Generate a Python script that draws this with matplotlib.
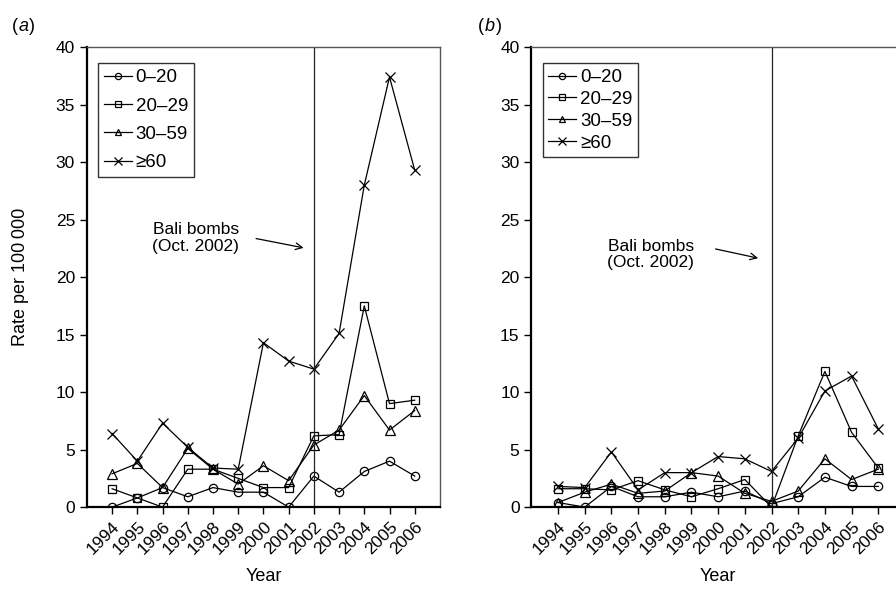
import numpy as np
import matplotlib
matplotlib.use("Agg")
import matplotlib.pyplot as plt

plt.rcParams.update({
    "font.family": ["Liberation Sans", "DejaVu Sans"],
    "font.size": 12.5,
})

# ── data ─────────────────────────────────────────────────────────────────────
years = [1994, 1995, 1996, 1997, 1998, 1999, 2000, 2001, 2002, 2003, 2004, 2005, 2006]
groups = ["0\u201320", "20\u201329", "30\u201359", "\u226560"]

# panel (a)
a_0_20  = [0.0, 0.8, 1.7, 0.9, 1.7, 1.3, 1.3, 0.0, 2.7, 1.3, 3.1, 4.0, 2.7]
a_20_29 = [1.6, 0.8, 0.0, 3.3, 3.3, 2.5, 1.7, 1.7, 6.2, 6.3, 17.5, 9.0, 9.3]
a_30_59 = [2.9, 3.8, 1.7, 5.1, 3.3, 2.0, 3.6, 2.3, 5.4, 6.7, 9.7, 6.7, 8.4]
a_60    = [6.4, 4.0, 7.3, 5.2, 3.4, 3.3, 14.3, 12.7, 12.0, 15.1, 28.0, 37.4, 29.3]

# panel (b)
b_0_20  = [0.4, 0.0, 1.8, 0.9, 0.9, 1.3, 0.9, 1.4, 0.3, 0.9, 2.6, 1.8, 1.8]
b_20_29 = [1.6, 1.6, 1.5, 2.3, 1.5, 0.9, 1.6, 2.4, 0.0, 6.2, 11.8, 6.5, 3.4]
b_30_59 = [0.4, 1.3, 2.0, 1.2, 1.4, 3.0, 2.7, 1.2, 0.5, 1.4, 4.2, 2.4, 3.3]
b_60    = [1.8, 1.7, 4.8, 1.5, 3.0, 3.0, 4.4, 4.2, 3.1, 6.0, 10.1, 11.4, 6.8]

MARKERS = ["o", "s", "^", "x"]
MSIZE   = [6, 6, 6.5, 7]

fig = plt.figure(figsize=(8.96, 5.89), dpi=100)
ax_a = fig.add_axes([0.097, 0.139, 0.394, 0.781])
ax_b = fig.add_axes([0.593, 0.139, 0.417, 0.781])


def draw_panel(ax, series, legend_spacing, text_xy, arrow_from, arrow_to):
    for vals, mk, ms, lab in zip(series, MARKERS, MSIZE, groups):
        ax.plot(years, vals, color="black", linewidth=0.9, marker=mk,
                markersize=ms, markerfacecolor="none", markeredgecolor="black",
                markeredgewidth=0.9, label=lab)
    ax.axvline(2002, color="#222222", linewidth=0.9)
    ax.set_xlim(1993, 2007)
    ax.set_ylim(0, 40)
    ax.set_yticks(range(0, 41, 5))
    ax.set_xticks(years)
    ax.set_xticklabels([str(y) for y in years], rotation=45, ha="right",
                       rotation_mode="anchor")
    ax.set_xlabel("Year", fontsize=13, labelpad=8)
    for side in ["top", "right"]:
        ax.spines[side].set_color("#555555")
        ax.spines[side].set_linewidth(1.0)
    for side in ["left", "bottom"]:
        ax.spines[side].set_color("black")
        ax.spines[side].set_linewidth(1.6)
    ax.tick_params(direction="out", length=5, width=1.0, labelsize=12.5)
    leg = ax.legend(loc="upper left", handlelength=1.5, handletextpad=0.2,
                    labelspacing=legend_spacing, borderpad=0.3, fancybox=False,
                    edgecolor="black", fontsize=13.5, markerscale=0.75,
                    bbox_to_anchor=(0.005, 0.985))
    leg.get_frame().set_linewidth(1.0)
    ax.text(text_xy[0], text_xy[1], "Bali bombs\n(Oct. 2002)", ha="left",
            va="center", fontsize=12.5, multialignment="center", linespacing=1.1)
    ax.annotate("", xy=arrow_to, xytext=arrow_from,
                arrowprops=dict(arrowstyle="->", color="black", lw=0.9,
                                mutation_scale=12))


draw_panel(ax_a, [a_0_20, a_20_29, a_30_59, a_60], 0.6,
           (1995.6, 23.4), (1999.6, 23.4), (2001.7, 22.5))
draw_panel(ax_b, [b_0_20, b_20_29, b_30_59, b_60], 0.25,
           (1995.85, 22.0), (1999.8, 22.5), (2001.6, 21.6))

ax_a.set_ylabel("Rate per 100\u2009000", fontsize=13)
ax_a.yaxis.set_label_coords(-0.165, 0.5)

fig.text(0.013, 0.948, "(", fontsize=13)
fig.text(0.021, 0.948, "a", fontsize=13, style="italic")
fig.text(0.032, 0.948, ")", fontsize=13)
fig.text(0.533, 0.948, "(", fontsize=13)
fig.text(0.541, 0.948, "b", fontsize=13, style="italic")
fig.text(0.553, 0.948, ")", fontsize=13)

fig.savefig("out.png", dpi=100)
